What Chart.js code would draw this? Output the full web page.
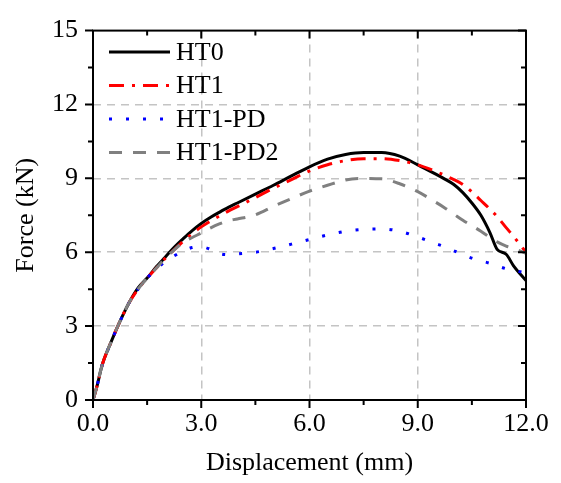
<!DOCTYPE html>
<html>
<head>
<meta charset="utf-8">
<script src="https://cdn.jsdelivr.net/npm/chart.js@4/dist/chart.umd.min.js"></script>
<style>
  html, body { margin: 0; padding: 0; background: #fff; }
  #wrap { width: 561px; height: 483px; }
</style>
</head>
<body>
<div id="wrap"><canvas id="chartForce" width="561" height="483"></canvas></div>
<script>
// displacement (mm), shared by all curves
const disp = [0, 0.1, 0.25, 0.5, 0.75, 1, 1.25, 1.5, 1.75, 2, 2.25, 2.5, 2.75, 3, 3.25, 3.5, 3.75, 4,
  4.5, 5, 5.5, 6, 6.5, 7, 7.5, 8, 8.5, 9, 9.5, 9.75, 10, 10.25, 10.5, 10.75, 11, 11.2, 11.45, 11.65, 12];

// force (kN)
const ht0 = [0, 0.5, 1.4, 2.35, 3.2, 3.95, 4.55, 4.95, 5.4, 5.8, 6.2, 6.55, 6.88, 7.17, 7.41, 7.62, 7.82, 8.0,
  8.36, 8.72, 9.1, 9.47, 9.78, 9.97, 10.05, 10.05, 9.9, 9.55, 9.17, 8.97, 8.75, 8.42, 8.0, 7.5, 6.8, 6.12, 5.92, 5.46, 4.85];
const ht1 = [0, 0.5, 1.4, 2.35, 3.2, 3.95, 4.5, 4.95, 5.35, 5.75, 6.1, 6.45, 6.76, 7.03, 7.26, 7.47, 7.67, 7.85,
  8.22, 8.6, 8.95, 9.3, 9.55, 9.72, 9.8, 9.8, 9.72, 9.55, 9.28, 9.12, 8.95, 8.75, 8.45, 8.1, 7.75, 7.45, 7.0, 6.65, 6.0];
const ht1pd = [0, 0.5, 1.4, 2.35, 3.2, 3.95, 4.5, 4.95, 5.3, 5.62, 5.85, 6.05, 6.19, 6.22, 6.12, 5.95, 5.9, 5.93,
  6.0, 6.15, 6.33, 6.52, 6.7, 6.85, 6.93, 6.95, 6.85, 6.62, 6.35, 6.22, 6.06, 5.9, 5.76, 5.65, 5.55, 5.45, 5.33, 5.27, 5.15];
const ht1pd2 = [0, 0.5, 1.4, 2.35, 3.2, 3.95, 4.5, 4.95, 5.35, 5.75, 6.1, 6.4, 6.6, 6.78, 6.98, 7.15, 7.28, 7.35,
  7.52, 7.86, 8.18, 8.48, 8.72, 8.93, 9.0, 8.98, 8.78, 8.46, 8.03, 7.8, 7.55, 7.3, 7.08, 6.85, 6.6, 6.42, 6.25, 6.15, 5.96];

const xTicks = [0, 3, 6, 9, 12];
const yTicks = [0, 3, 6, 9, 12, 15];
const FONT = "'Liberation Serif', 'Times New Roman', serif";

function pts(ys) {
  return disp.map((x, i) => ({ x: x, y: ys[i] }));
}

// frame with outward ticks (left/bottom) and inward ticks (top/right)
const framePlugin = {
  id: "frame",
  afterDraw(chart) {
    const { ctx, chartArea: a } = chart;
    const xs = chart.scales.x, ys = chart.scales.y;
    ctx.save();
    ctx.strokeStyle = "#000";
    ctx.lineWidth = 2;
    ctx.strokeRect(a.left, a.top, a.right - a.left, a.bottom - a.top);
    for (let v = 0; v <= 12; v += 1.5) {
      const px = xs.getPixelForValue(v);
      const len = v % 3 === 0 ? 8 : 5;
      ctx.beginPath();
      ctx.moveTo(px, a.bottom); ctx.lineTo(px, a.bottom + len);
      ctx.moveTo(px, a.top); ctx.lineTo(px, a.top + len);
      ctx.stroke();
    }
    for (let v = 0; v <= 15; v += 1.5) {
      const py = ys.getPixelForValue(v);
      const len = v % 3 === 0 ? 8 : 5;
      ctx.beginPath();
      ctx.moveTo(a.left, py); ctx.lineTo(a.left - len, py);
      ctx.moveTo(a.right, py); ctx.lineTo(a.right - len, py);
      ctx.stroke();
    }
    ctx.restore();
  },
};

// legend drawn inside the plot, top-left
const legendPlugin = {
  id: "insideLegend",
  afterDatasetsDraw(chart) {
    const ctx = chart.ctx;
    ctx.save();
    ctx.font = "26px " + FONT;
    ctx.textBaseline = "middle";
    ctx.fillStyle = "#000";
    chart.data.datasets.forEach((ds, i) => {
      const y = 52 + i * 33.5;
      ctx.beginPath();
      ctx.setLineDash(ds.borderDash || []);
      ctx.strokeStyle = ds.borderColor;
      ctx.lineWidth = ds.borderWidth;
      ctx.moveTo(109, y);
      ctx.lineTo(170, y);
      ctx.stroke();
      ctx.setLineDash([]);
      ctx.fillText(ds.label, 176, y + 1);
    });
    ctx.restore();
  },
};

const bgPlugin = {
  id: "bg",
  beforeDraw(chart) {
    const ctx = chart.ctx;
    ctx.save();
    ctx.fillStyle = "#fff";
    ctx.fillRect(0, 0, chart.width, chart.height);
    ctx.restore();
  },
};

const gridColor = "#c4c4c4";

new Chart(document.getElementById("chartForce").getContext("2d"), {
  type: "line",
  data: {
    datasets: [
      { label: "HT0", data: pts(ht0), borderColor: "#000000", borderWidth: 3, order: 4 },
      { label: "HT1", data: pts(ht1), borderColor: "#ff0000", borderWidth: 3, borderDash: [15, 8, 3, 8], order: 3 },
      { label: "HT1-PD", data: pts(ht1pd), borderColor: "#0000ff", borderWidth: 3, borderDash: [3, 14], order: 2 },
      { label: "HT1-PD2", data: pts(ht1pd2), borderColor: "#808080", borderWidth: 3, borderDash: [13, 11], order: 1 },
    ],
  },
  options: {
    responsive: false,
    animation: false,
    events: [],
    cubicInterpolationMode: "monotone",
    elements: { point: { radius: 0 }, line: { fill: false } },
    layout: { padding: { top: 20, right: 35, left: 0, bottom: 0 } },
    plugins: { legend: { display: false }, tooltip: { enabled: false } },
    scales: {
      x: {
        type: "linear",
        min: 0,
        max: 12,
        afterBuildTicks: (s) => { s.ticks = xTicks.map((v) => ({ value: v })); },
        afterFit: (s) => { s.height = 83; },
        ticks: { color: "#000", font: { family: FONT, size: 26 }, padding: 9, maxRotation: 0,
          callback: (v) => v.toFixed(1) },
        grid: { color: (c) => (c.tick && (c.tick.value === 0 || c.tick.value === 12) ? "rgba(0,0,0,0)" : gridColor),
          lineWidth: 1.5, drawTicks: false },
        border: { display: false, dash: [8, 6] },
        title: { display: true, text: "Displacement (mm)", color: "#000",
          font: { family: FONT, size: 26 }, padding: { top: 0, bottom: 4 } },
      },
      y: {
        min: 0,
        max: 15,
        afterBuildTicks: (s) => { s.ticks = yTicks.map((v) => ({ value: v })); },
        afterFit: (s) => { s.width = 93; },
        ticks: { color: "#000", font: { family: FONT, size: 26 }, padding: 15 },
        grid: { color: (c) => (c.tick && (c.tick.value === 0 || c.tick.value === 15) ? "rgba(0,0,0,0)" : gridColor),
          lineWidth: 1.5, drawTicks: false },
        border: { display: false, dash: [8, 6] },
        title: { display: true, text: "Force (kN)", color: "#000",
          font: { family: FONT, size: 26 }, padding: { top: 11, bottom: 0 } },
      },
    },
  },
  plugins: [bgPlugin, framePlugin, legendPlugin],
});
</script>
</body>
</html>
